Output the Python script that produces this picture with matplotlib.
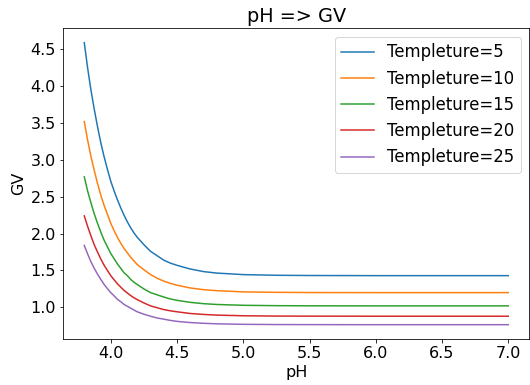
import matplotlib
matplotlib.use("Agg")
import matplotlib.pyplot as plt

ph = [3.8, 3.825, 3.85, 3.875, 3.9, 3.925, 3.95, 3.975, 4.0, 4.025, 4.05,
      4.075, 4.1, 4.125, 4.15, 4.175, 4.2, 4.25, 4.3, 4.35, 4.4, 4.45,
      4.5, 4.6, 4.7, 4.8, 5.0, 5.25, 5.5, 6.0, 6.5, 7.0]

gv_t5 = [4.59, 4.25, 3.95, 3.69, 3.45, 3.23, 3.04, 2.87, 2.71, 2.58, 2.46,
         2.35, 2.25, 2.16, 2.08, 2.01, 1.95, 1.85, 1.76, 1.70, 1.64, 1.60,
         1.57, 1.52, 1.485, 1.465, 1.444, 1.435, 1.432, 1.43, 1.43, 1.43]
gv_t10 = [3.52, 3.27, 3.05, 2.86, 2.68, 2.52, 2.38, 2.26, 2.14, 2.04, 1.95,
          1.87, 1.80, 1.74, 1.68, 1.63, 1.58, 1.51, 1.445, 1.395, 1.356, 1.325,
          1.30, 1.263, 1.24, 1.226, 1.21, 1.204, 1.201, 1.20, 1.20, 1.20]
gv_t15 = [2.77, 2.58, 2.42, 2.27, 2.14, 2.02, 1.91, 1.82, 1.73, 1.66, 1.59,
          1.53, 1.47, 1.43, 1.38, 1.34, 1.31, 1.25, 1.20, 1.17, 1.14, 1.114,
          1.095, 1.068, 1.05, 1.039, 1.028, 1.023, 1.021, 1.02, 1.02, 1.02]
gv_t20 = [2.24, 2.10, 1.97, 1.85, 1.75, 1.655, 1.57, 1.50, 1.43, 1.374, 1.32,
          1.275, 1.23, 1.195, 1.16, 1.13, 1.105, 1.06, 1.02, 0.995, 0.97, 0.953,
          0.94, 0.917, 0.904, 0.895, 0.886, 0.882, 0.881, 0.88, 0.88, 0.88]
gv_t25 = [1.84, 1.725, 1.62, 1.53, 1.45, 1.378, 1.31, 1.254, 1.20, 1.156, 1.11,
          1.077, 1.04, 1.014, 0.99, 0.964, 0.94, 0.907, 0.88, 0.856, 0.84, 0.823,
          0.81, 0.794, 0.784, 0.777, 0.77, 0.767, 0.766, 0.765, 0.765, 0.765]

temps = [5, 10, 15, 20, 25]
series = [gv_t5, gv_t10, gv_t15, gv_t20, gv_t25]

plt.rcParams['font.size'] = 16

# drawn at 72 dpi so that points and pixels line up like the original
fig = plt.figure(figsize=(530 / 72, 385 / 72), dpi=72)
ax = fig.add_axes([0.119, 0.12, 0.88, 0.806])

for t, gv in zip(temps, series):
    ax.plot(ph, gv, label='Templeture=' + str(t))

ax.set_title('pH => GV')
ax.set_xlabel('pH')
ax.set_ylabel('GV')
ax.legend(fontsize=16.5, labelspacing=0.5)

fig.savefig('out.png', dpi=72)
